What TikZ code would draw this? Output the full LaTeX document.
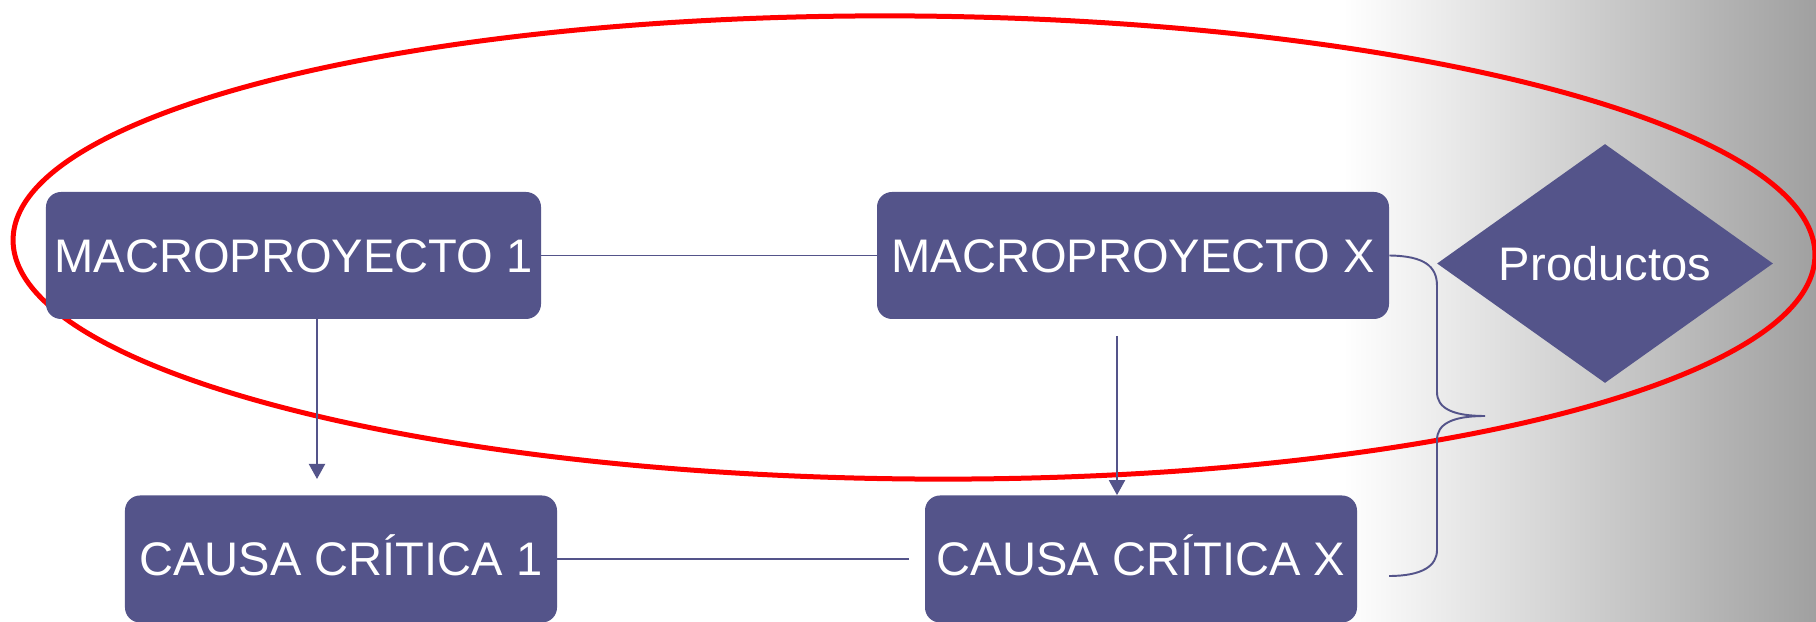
\documentclass[tikz,border=0pt]{standalone}
\usepackage{fontspec}
\setmainfont{Liberation Sans}
\usepackage{tikz}
\usetikzlibrary{shapes.geometric,arrows.meta}
\definecolor{boxblue}{RGB}{84, 84, 138}
\definecolor{ringred}{RGB}{255, 0, 0}
\definecolor{edgegray}{RGB}{160, 160, 160}

\tikzset{
    projbox/.style={fill=boxblue, text=white, rounded corners=3mm, inner sep=0pt,
        minimum height=25.4mm, text height=19pt, text depth=0pt, bigtext},
    bigtext/.style={font=\fontsize{26.8}{30}\selectfont},
    link/.style={draw=boxblue, line width=1.1pt},
    flow/.style={link, -{Triangle[width=3.2mm, length=3mm]}},
}

\begin{document}
\begin{tikzpicture}[x=0.2mm, y=-0.2mm]
    \useasboundingbox (0,0) rectangle (1816,622);
    % background, fading to grey on the right
    \fill[white] (0,0) rectangle (1343,622);
    \shade[left color=white, right color=edgegray] (1343,0) rectangle (1816,622);

    % red ring round the macroprojects
    \draw[ringred, line width=1mm, rotate around={-0.5:(914,247.5)}]
        (914,247.5) ellipse [x radius=901, y radius=231.5];

    \node[projbox, minimum width=99mm] (mp1) at (293.5,255.5) {MACROPROYECTO 1};
    \node[projbox, minimum width=102.4mm] (mpx) at (1133,255.5) {MACROPROYECTO X};
    \node[projbox, minimum width=86.4mm] (cc1) at (341,559) {CAUSA CRÍTICA 1};
    \node[projbox, minimum width=86.4mm] (ccx) at (1141,559) {CAUSA CRÍTICA X};
    \node[diamond, aspect=1.4, fill=boxblue, text=white, inner sep=0pt, bigtext,
        minimum width=67.2mm, minimum height=47.8mm] (prod) at (1605,263.5) {Productos};

    \coordinate (a1end) at (317,479);
    \coordinate (a2start) at (1117,336);
    \draw[link] (mp1.east) -- (mpx.west);
    \draw[link] (cc1.east) -- ([xshift=-3.2mm]ccx.west);
    \draw[flow] (a1end |- mp1.south) -- (a1end);
    \draw[flow] (a2start) -- (a2start |- ccx.north);

    % brace from MACROPROYECTO X down to CAUSA CRITICA X
    \coordinate (brtop) at (mpx.east);
    \coordinate (brtip) at (1485,416);
    \coordinate (brbot) at (1389,576);
    \draw[link] (brtop) .. controls (1424,256) and (1437,266) .. (1437,286) -- (1437,392)
        .. controls (1437,408) and (1452,416) .. (brtip)
        .. controls (1452,416) and (1437,424) .. (1437,440) -- (1437,550)
        .. controls (1437,566) and (1422,576) .. (brbot);
\end{tikzpicture}
\end{document}
